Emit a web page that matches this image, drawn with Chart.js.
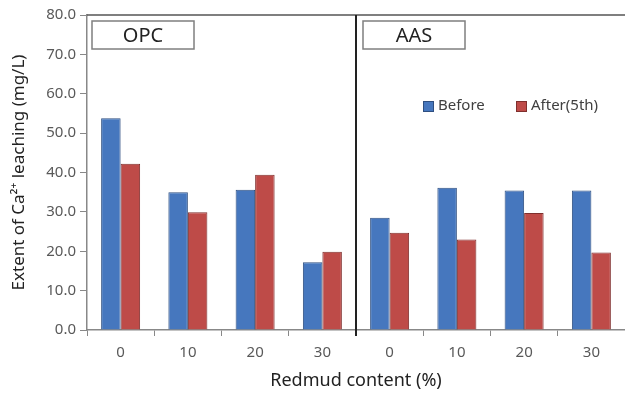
<!DOCTYPE html>
<html lang="en">
<head>
    <meta charset="UTF-8">
    <title>Ca2+ leaching</title>
    <script src="https://cdn.jsdelivr.net/npm/chart.js"></script>
<style>
    html, body { margin: 0; padding: 0; background: #fff; }
    #wrap { width: 625px; height: 396px; }
</style>
</head>
<body>
<div id="wrap"><canvas id="leachChart"></canvas></div>
<script>
// categories: redmud content (%), OPC group then AAS group
const categories = ['0', '10', '20', '30', '0', '10', '20', '30'];
const groupNames = ['OPC', 'AAS'];
const beforeValues = [53.8, 35.0, 35.6, 17.2, 28.5, 36.1, 35.4, 35.4];
const afterValues = [42.2, 29.9, 39.4, 19.9, 24.7, 23.0, 29.7, 19.7];
const yTicks = [0, 10, 20, 30, 40, 50, 60, 70, 80];

const font = "'Noto Sans', sans-serif";

// top frame line, group divider, group boxes and legend
const decor = {
    id: 'decor',
    afterDatasetsDraw(chart) {
        const { ctx, chartArea: a, scales: { x } } = chart;
        ctx.save();
        // top border
        ctx.strokeStyle = '#555';
        ctx.lineWidth = 1.5;
        ctx.beginPath();
        ctx.moveTo(a.left, a.top);
        ctx.lineTo(a.right, a.top);
        ctx.stroke();
        // divider between OPC and AAS
        const mid = (x.getPixelForValue(3) + x.getPixelForValue(4)) / 2;
        ctx.strokeStyle = '#222';
        ctx.lineWidth = 2;
        ctx.beginPath();
        ctx.moveTo(mid, a.top);
        ctx.lineTo(mid, a.bottom + 6);
        ctx.stroke();
        // group boxes
        const boxLeft = [a.left + 5, mid + 7];
        ctx.lineWidth = 1.5;
        ctx.strokeStyle = '#7f7f7f';
        ctx.fillStyle = '#222';
        ctx.font = '20px ' + font;
        ctx.textAlign = 'center';
        ctx.textBaseline = 'middle';
        groupNames.forEach((g, i) => {
            ctx.strokeRect(boxLeft[i], a.top + 6, 102, 28);
            ctx.fillText(g, boxLeft[i] + 51, a.top + 21);
        });
        // legend
        ctx.font = '15px ' + font;
        ctx.textAlign = 'left';
        const lx = [423, 516];
        chart.data.datasets.forEach((ds, i) => {
            ctx.fillStyle = ds.backgroundColor;
            ctx.strokeStyle = ds.borderColor;
            ctx.lineWidth = 1;
            ctx.fillRect(lx[i], 101, 10, 10);
            ctx.strokeRect(lx[i] + 0.5, 101.5, 10, 10);
            ctx.fillStyle = '#404040';
            ctx.fillText(ds.label, lx[i] + 15, 106);
        });
        ctx.restore();
    }
};

new Chart(document.getElementById('leachChart'), {
    type: 'bar',
    data: {
        labels: categories,
        datasets: [{
            label: 'Before',
            data: beforeValues,
            backgroundColor: '#4677be',
            borderColor: '#2f4f80',
            borderWidth: 1
        }, {
            label: 'After(5th)',
            data: afterValues,
            backgroundColor: '#be4b48',
            borderColor: '#7f2f2d',
            borderWidth: 1
        }]
    },
    options: {
        responsive: true,
        maintainAspectRatio: false,
        animation: false,
        layout: { padding: { top: 15, right: 0, left: 0, bottom: 0 } },
        datasets: { bar: { categoryPercentage: 0.58, barPercentage: 1 } },
        plugins: { legend: { display: false }, tooltip: { enabled: false } },
        scales: {
            x: {
                grid: { drawOnChartArea: false, tickLength: 6, color: '#888' },
                border: { color: '#888', width: 1.5 },
                ticks: { color: '#595959', font: { family: font, size: 15 }, padding: 8 },
                title: { display: true, text: 'Redmud content (%)', color: '#222', font: { family: font, size: 18 }, padding: { top: 0 } },
                afterFit(s) { s.height = 66; }
            },
            y: {
                min: 0,
                max: 80,
                afterBuildTicks(s) { s.ticks = yTicks.map(v => ({ value: v })); },
                grid: { drawOnChartArea: false, tickLength: 7, color: '#888' },
                border: { color: '#888', width: 1.5 },
                ticks: {
                    color: '#595959',
                    font: { family: font, size: 15 },
                    padding: 4,
                    callback: v => v.toFixed(1)
                },
                title: { display: true, text: 'Extent of Ca²⁺ leaching (mg/L)', color: '#222', font: { family: font, size: 17 }, padding: { top: 9, bottom: 4 } },
                afterFit(s) { s.width = 87; }
            }
        }
    },
    plugins: [decor]
});
</script>
</body>
</html>
